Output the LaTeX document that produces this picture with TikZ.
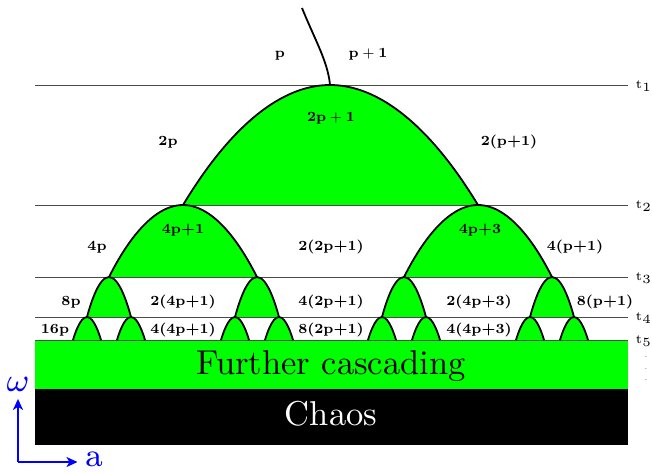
\documentclass[tikz,border=0pt]{standalone}
\usetikzlibrary{arrows.meta}
\definecolor{wingreen}{RGB}{0,255,0}
\definecolor{axisblue}{RGB}{0,0,255}
\begin{document}
\begin{tikzpicture}[x=1pt,y=-1pt,
    tline/.style={black!70,line width=0.8pt},
    window/.style={black,line width=1.8pt},
    lbl/.style={font=\fontsize{7}{8}\selectfont\bfseries,inner sep=0pt,
      text height=0.75em,text depth=0.25em,scale=2,transform shape},
    tlbl/.style={font=\fontsize{5}{6}\selectfont,anchor=base west,inner sep=0pt,
      scale=2.5,transform shape},
    big/.style={font=\fontsize{10}{12}\selectfont,inner sep=0pt,scale=3.45,transform shape},
    axlbl/.style={font=\fontsize{8}{9}\selectfont,text=axisblue,inner sep=0pt,
      scale=4.1,transform shape},
    axis/.style={axisblue,line width=1.8pt,-{Stealth[length=11pt,width=10pt,inset=3pt]}}]
  \useasboundingbox (0,0) rectangle (652,472);
  % bands at the bottom
  \fill[wingreen] (35,340) rectangle (628,389);
  \fill[black] (35,389) rectangle (628,445);
  % periodic windows
  \foreach \l/\c/\r/\yt/\yb in {183/330/478/85/205,
      109/183/257/205/277, 404/478/552/205/277,
      87/109/131/277/317, 235/257/279/277/317, 382/404/426/277/317, 530/552/574/277/317,
      73/87/101/317/340, 117/131/145/317/340, 221/235/249/317/340, 265/279/293/317/340,
      368/382/396/317/340, 412/426/440/317/340, 516/530/544/317/340, 560/574/588/317/340}{
    \fill[wingreen] (\l,\yb) parabola bend (\c,\yt) (\r,\yb) -- cycle;
  }
  % bifurcation levels
  \foreach \y [count=\i] in {85,205,277,317,340}{
    \draw[tline] (35,\y) -- (628,\y);
    \node[tlbl] (t\i) at (635,\y+3) {$\mathrm{t}_{\i}$};
  }
  \foreach \l/\c/\r/\yt/\yb in {183/330/478/85/205,
      109/183/257/205/277, 404/478/552/205/277,
      87/109/131/277/317, 235/257/279/277/317, 382/404/426/277/317, 530/552/574/277/317,
      73/87/101/317/340, 117/131/145/317/340, 221/235/249/317/340, 265/279/293/317/340,
      368/382/396/317/340, 412/426/440/317/340, 516/530/544/317/340, 560/574/588/317/340}{
    \draw[window] (\l,\yb) parabola bend (\c,\yt) (\r,\yb);
  }
  \draw[window] (302,8) .. controls (315,40) and (328,62) .. (330,85);
  % periods
  \node[lbl] (p) at (280,52) {p};
  \node[lbl] (p1) at (368,52) {$\mathbf{p+1}$};
  \node[lbl] (w1) at (331,116) {$\mathbf{2p+1}$};
  \node[lbl] (a2p) at (168,140) {2p};
  \node[lbl] (b2p) at (509,140) {2(p+1)};
  \node[lbl] (w2) at (183,228) {4p+1};
  \node[lbl] (w3) at (480,228) {4p+3};
  \node[lbl] (a4p) at (97,245) {4p};
  \node[lbl] (b4p) at (331,245) {2(2p+1)};
  \node[lbl] (c4p) at (575,245) {4(p+1)};
  \node[lbl] (a8p) at (71,300) {8p};
  \node[lbl] (b8p) at (183,300) {2(4p+1)};
  \node[lbl] (c8p) at (331,300) {4(2p+1)};
  \node[lbl] (d8p) at (479,300) {2(4p+3)};
  \node[lbl] (e8p) at (605,300) {8(p+1)};
  \node[lbl] (a16p) at (55,328) {16p};
  \node[lbl] (b16p) at (183,328) {4(4p+1)};
  \node[lbl] (c16p) at (331,328) {8(2p+1)};
  \node[lbl] (d16p) at (479,328) {4(4p+3)};
  \node[font=\fontsize{8}{11.5}\selectfont,align=center,inner sep=0pt] (dots) at (646,369) {.\\.\\.};
  % bands text
  \node[big] (further) at (331,366) {Further cascading};
  \node[big,text=white] (chaos) at (331,414) {Chaos};
  % axes
  \coordinate (O) at (18,462);
  \node[axlbl] (om) at (18,384) {$\omega$};
  \node[axlbl] (a) at (94,459) {a};
  \draw[axis,shorten >=7pt] (O) -- (O |- om.south);
  \draw[axis,shorten >=7pt] (O) -- (O -| a.west);
\end{tikzpicture}
\end{document}
